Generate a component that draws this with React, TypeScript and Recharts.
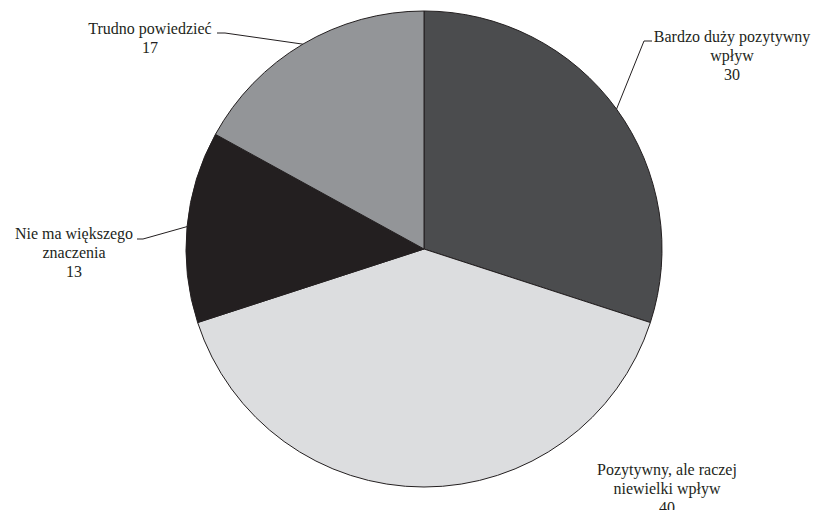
import { PieChart, Pie, Cell } from 'recharts'

const categories = [
  ['Bardzo duży pozytywny', 'wpływ'],
  ['Pozytywny, ale raczej', 'niewielki wpływ'],
  ['Nie ma większego', 'znaczenia'],
  ['Trudno powiedzieć'],
]
const values = [30, 40, 13, 17]
const colors = ['#4b4c4e', '#dcdddf', '#231f20', '#939598']

const data = categories.map((lines, i) => ({ name: lines.join(' '), lines, value: values[i] }))

// label placement (text centre x, first baseline y, leader elbow + end)
const labelLayout = [
  { x: 732, y: 42, elbow: [644, 41], end: [652, 41] },
  { x: 667, y: 475, elbow: null, end: null },
  { x: 74, y: 239, elbow: [143, 239], end: [137, 239] },
  { x: 150, y: 34, elbow: [225, 33], end: [217, 33] },
]

const RADIAN = Math.PI / 180
const LINE_H = 19

function renderLabel(props: any) {
  const { cx, cy, midAngle, outerRadius, index } = props
  const lay = labelLayout[index]
  const d = data[index]
  const sx = cx + outerRadius * Math.cos(-midAngle * RADIAN)
  const sy = cy + outerRadius * Math.sin(-midAngle * RADIAN)
  const rows = [...d.lines, String(d.value)]
  return (
    <g>
      {lay.elbow && lay.end && (
        <polyline
          points={`${sx},${sy} ${lay.elbow[0]},${lay.elbow[1]} ${lay.end[0]},${lay.end[1]}`}
          fill="none"
          stroke="#231f20"
          strokeWidth={1}
        />
      )}
      <text
        textAnchor="middle"
        fontFamily="'Liberation Serif', 'Times New Roman', serif"
        fontSize={16}
        fill="#231f20"
      >
        {rows.map((r, i) => (
          <tspan key={i} x={lay.x} y={lay.y + i * LINE_H}>
            {r}
          </tspan>
        ))}
      </text>
    </g>
  )
}

export default function App() {
  return (
    <div style={{ position: 'absolute', left: 0, top: 0, width: 817, height: 510, background: '#fff' }}>
      <PieChart width={817} height={510} margin={{ top: 0, right: 0, bottom: 0, left: 0 }}>
        <Pie
          data={data}
          dataKey="value"
          nameKey="name"
          cx={424}
          cy={249}
          outerRadius={238}
          startAngle={90}
          endAngle={-270}
          stroke="#231f20"
          strokeWidth={1}
          label={renderLabel}
          labelLine={false}
          isAnimationActive={false}
        >
          {data.map((d, i) => (
            <Cell key={d.name} fill={colors[i]} />
          ))}
        </Pie>
      </PieChart>
    </div>
  )
}
